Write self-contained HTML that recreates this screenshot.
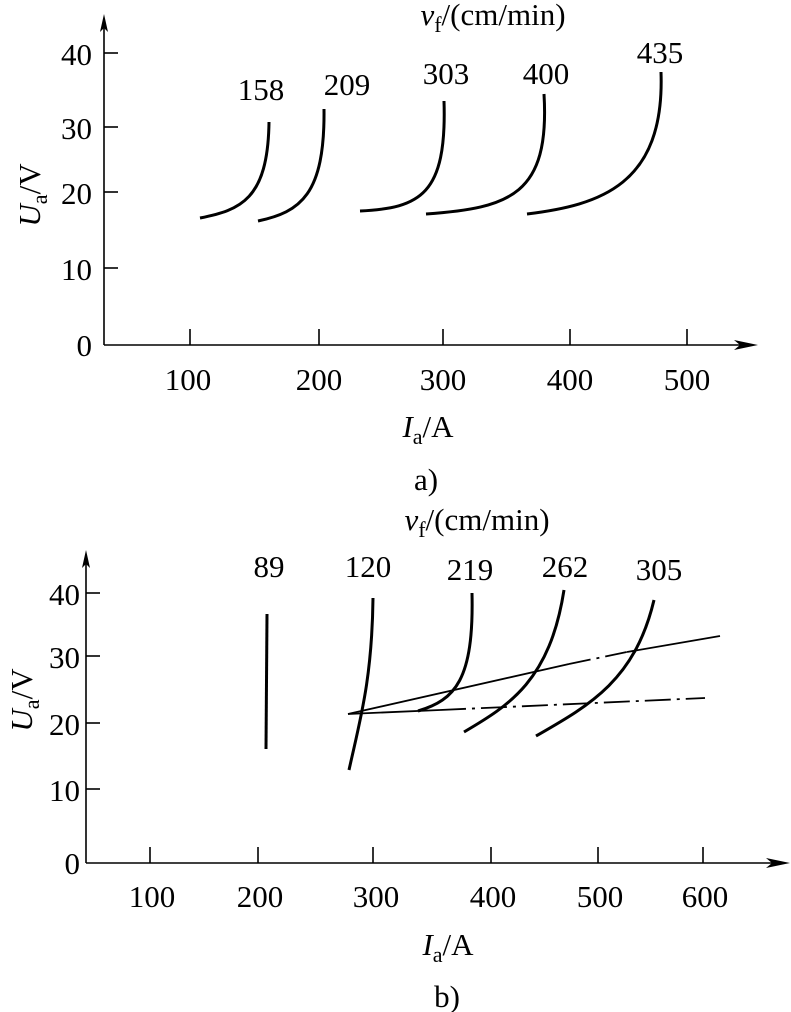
<!DOCTYPE html>
<html><head><meta charset="utf-8"><style>
html,body{margin:0;padding:0;background:#fff;}
svg{display:block;}
text{font-family:"Liberation Serif",serif;font-size:31px;fill:#000;}
</style></head><body>
<svg width="791" height="1012" viewBox="0 0 791 1012" xmlns="http://www.w3.org/2000/svg">
<g stroke="#000" fill="none" stroke-width="1.6">
<line x1="104" y1="345" x2="750" y2="345"/>
<line x1="104" y1="345" x2="104" y2="20"/>
<line x1="104" y1="53" x2="118" y2="53"/>
<line x1="104" y1="127" x2="118" y2="127"/>
<line x1="104" y1="192" x2="118" y2="192"/>
<line x1="104" y1="268" x2="118" y2="268"/>
<line x1="190" y1="345" x2="190" y2="329"/>
<line x1="319" y1="345" x2="319" y2="329"/>
<line x1="443" y1="345" x2="443" y2="329"/>
<line x1="570" y1="345" x2="570" y2="329"/>
<line x1="687" y1="345" x2="687" y2="329"/>
</g>
<path d="M104,14 L100,32 L104,28 L108,32 Z" fill="#000"/>
<path d="M758,345 L734,340 L740,345 L734,350 Z" fill="#000"/>
<g stroke="#000" fill="none" stroke-width="3">
<path d="M200,218 C240,210 268,200 269,122"/>
<path d="M258,221 C300,212 325,195 324,109"/>
<path d="M360,211 C420,208 447,195 444,101"/>
<path d="M426,214 C510,208 550,195 544,94"/>
<path d="M527,214 C600,205 665,185 661,72"/>
</g>
<g text-anchor="middle">
<text x="261" y="100">158</text>
<text x="347" y="95">209</text>
<text x="446" y="84">303</text>
<text x="546" y="84">400</text>
<text x="660" y="63">435</text>
<text x="92" y="65" text-anchor="end">40</text>
<text x="92" y="139" text-anchor="end">30</text>
<text x="92" y="204" text-anchor="end">20</text>
<text x="92" y="280" text-anchor="end">10</text>
<text x="92" y="356" text-anchor="end">0</text>
<text x="188" y="390">100</text>
<text x="252" y="390" opacity="0"> </text>
<text x="319" y="390">200</text>
<text x="443" y="390">300</text>
<text x="570" y="390">400</text>
<text x="687" y="390">500</text>
<text x="428" y="437"><tspan font-style="italic">I</tspan><tspan font-size="22" dy="7">a</tspan><tspan dy="-7">/A</tspan></text>
<text x="426" y="490">a)</text>
<text x="493" y="25"><tspan font-style="italic">v</tspan><tspan font-size="22" dy="7">f</tspan><tspan dy="-7">/(cm/min)</tspan></text>
</g>
<text transform="translate(40,195) rotate(-90)" text-anchor="middle"><tspan font-style="italic">U</tspan><tspan font-size="22" dy="7">a</tspan><tspan dy="-7">/V</tspan></text>

<g stroke="#000" fill="none" stroke-width="1.6">
<line x1="86" y1="863" x2="780" y2="863"/>
<line x1="86" y1="863" x2="86" y2="556"/>
<line x1="86" y1="593" x2="100" y2="593"/>
<line x1="86" y1="656" x2="100" y2="656"/>
<line x1="86" y1="723" x2="100" y2="723"/>
<line x1="86" y1="789" x2="100" y2="789"/>
<line x1="150" y1="863" x2="150" y2="847"/>
<line x1="258" y1="863" x2="258" y2="847"/>
<line x1="373" y1="863" x2="373" y2="847"/>
<line x1="491" y1="863" x2="491" y2="847"/>
<line x1="598" y1="863" x2="598" y2="847"/>
<line x1="703" y1="863" x2="703" y2="847"/>
</g>
<path d="M86,550 L82,568 L86,564 L90,568 Z" fill="#000"/>
<path d="M790,863 L766,858 L772,863 L766,868 Z" fill="#000"/>
<g stroke="#000" fill="none" stroke-width="3">
<line x1="267" y1="614" x2="266" y2="749"/>
<path d="M349,770 C360,720 372,680 373,598"/>
<path d="M418,711 C455,700 474,680 472,593"/>
<path d="M464,732 C510,705 550,680 564,590"/>
<path d="M536,736 C590,705 635,680 654,600"/>
</g>
<g stroke="#000" fill="none" stroke-width="1.8">
<path d="M348,714 L569,664"/>
<path d="M569,664 L627,652" stroke-dasharray="22,6,3,6"/>
<path d="M627,652 L720,636"/>
<path d="M348,714 L440,710"/>
<path d="M440,710 L705,698" stroke-dasharray="26,6,3,6"/>
</g>
<g text-anchor="middle">
<text x="269" y="577">89</text>
<text x="368" y="577">120</text>
<text x="470" y="580">219</text>
<text x="565" y="577">262</text>
<text x="659" y="580">305</text>
<text x="80" y="605" text-anchor="end">40</text>
<text x="80" y="668" text-anchor="end">30</text>
<text x="80" y="735" text-anchor="end">20</text>
<text x="80" y="801" text-anchor="end">10</text>
<text x="80" y="874" text-anchor="end">0</text>
<text x="152" y="907">100</text>
<text x="260" y="907">200</text>
<text x="376" y="907">300</text>
<text x="493" y="907">400</text>
<text x="600" y="907">500</text>
<text x="705" y="907">600</text>
<text x="448" y="955"><tspan font-style="italic">I</tspan><tspan font-size="22" dy="7">a</tspan><tspan dy="-7">/A</tspan></text>
<text x="447" y="1007">b)</text>
<text x="477" y="530"><tspan font-style="italic">v</tspan><tspan font-size="22" dy="7">f</tspan><tspan dy="-7">/(cm/min)</tspan></text>
</g>
<text transform="translate(32,700) rotate(-90)" text-anchor="middle"><tspan font-style="italic">U</tspan><tspan font-size="22" dy="7">a</tspan><tspan dy="-7">/V</tspan></text>
</svg>
</body></html>
